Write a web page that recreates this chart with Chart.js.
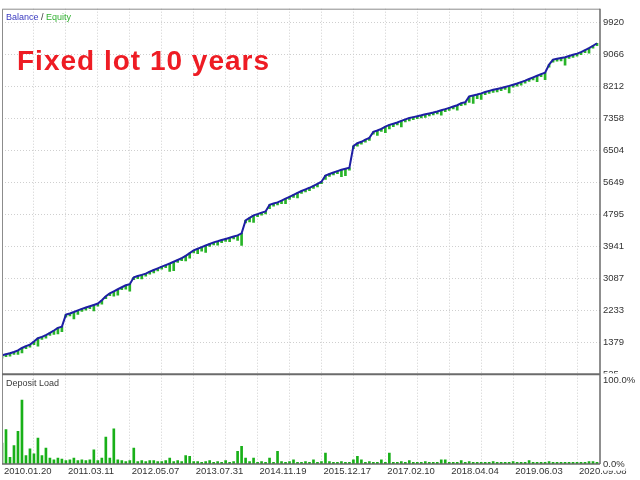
<!DOCTYPE html>
<html>
<head>
<meta charset="utf-8">
<script src="https://cdn.jsdelivr.net/npm/chart.js@4.4.1/dist/chart.umd.min.js"></script>
<style>
  html, body { margin: 0; padding: 0; background: #fff; }
  #wrap { width: 640px; height: 480px; position: relative; }
</style>
</head>
<body>
<div id="wrap"><canvas id="chartBalance" width="640" height="480"></canvas></div>
<script>
// date labels under every second vertical grid line
const dateLabels = ['2010.01.20', '2011.03.11', '2012.05.07', '2013.07.31', '2014.11.19',
  '2015.12.17', '2017.02.10', '2018.04.04', '2019.06.03', '2020.09.08'];
const balanceTicks = [525, 1379, 2233, 3087, 3941, 4795, 5649, 6504, 7358, 8212, 9066, 9920];
const loadTicks = [0, 100];

// balance (one sample per 4 px)
const balance = [
  1032, 1059, 1085, 1118, 1158, 1224, 1275, 1315, 1395, 1486,
  1521, 1569, 1627, 1691, 1761, 1795, 2116, 2145, 2185, 2228,
  2268, 2305, 2340, 2375, 2412, 2500, 2607, 2687, 2740, 2794,
  2847, 2900, 2930, 3114, 3146, 3178, 3213, 3263, 3309, 3354,
  3400, 3440, 3482, 3528, 3576, 3624, 3685, 3760, 3835, 3877,
  3920, 3963, 4005, 4048, 4077, 4109, 4139, 4171, 4203, 4235,
  4288, 4633, 4702, 4769, 4803, 4841, 4875, 5052, 5084, 5116,
  5164, 5214, 5262, 5316, 5369, 5420, 5463, 5506, 5556, 5610,
  5668, 5836, 5876, 5916, 5951, 5988, 6015, 6042, 6621, 6698,
  6736, 6794, 6840, 7003, 7037, 7080, 7141, 7187, 7219, 7251,
  7294, 7336, 7371, 7395, 7419, 7443, 7470, 7494, 7518, 7547,
  7579, 7609, 7643, 7678, 7713, 7769, 7790, 7950, 7974, 7998,
  8030, 8065, 8097, 8124, 8148, 8172, 8201, 8230, 8262, 8292,
  8332, 8372, 8415, 8457, 8500, 8543, 8583, 8799, 8932, 8956,
  8975, 8996, 9028, 9061, 9092, 9133, 9186, 9239, 9303, 9370
];

// lowest equity in each sample (the green spikes)
const equity = [
  952, 992, 1005, 1051, 1051, 1091, 1208, 1248, 1315, 1272,
  1454, 1489, 1560, 1584, 1601, 1662, 2049, 2078, 1998, 2121,
  2201, 2238, 2273, 2215, 2345, 2393, 2540, 2620, 2607, 2634,
  2780, 2793, 2743, 3047, 3079, 3071, 3146, 3196, 3229, 3287,
  3333, 3373, 3268, 3288, 3509, 3557, 3552, 3627, 3768, 3744,
  3813, 3776, 3938, 3981, 3970, 4042, 4072, 4064, 4136, 4102,
  3968, 4566, 4595, 4582, 4736, 4774, 4808, 4945, 5017, 5049,
  5084, 5081, 5195, 5249, 5236, 5353, 5396, 5426, 5489, 5530,
  5615, 5729, 5809, 5849, 5884, 5801, 5828, 5975, 6554, 6618,
  6669, 6727, 6773, 6936, 6904, 7013, 6981, 7080, 7139, 7184,
  7134, 7269, 7291, 7328, 7352, 7376, 7390, 7427, 7451, 7480,
  7446, 7542, 7576, 7611, 7580, 7702, 7723, 7790, 7760, 7891,
  7870, 7998, 8030, 8057, 8068, 8105, 8134, 8043, 8195, 8225,
  8252, 8305, 8348, 8390, 8340, 8476, 8396, 8732, 8865, 8889,
  8895, 8782, 8961, 8994, 9025, 9066, 9119, 9106, 9236, 9303
];

// deposit load, %
const depositLoad = [
  25, 41, 8, 22, 39, 76, 10, 18, 12, 31,
  10, 19, 7, 5, 7, 6, 4, 5, 7, 4,
  5, 4, 5, 17, 4, 7, 32, 7, 42, 5,
  4, 3, 4, 19, 3, 4, 3, 4, 4, 3,
  3, 4, 7, 3, 4, 3, 10, 9, 3, 3,
  2, 3, 4, 2, 3, 2, 4, 2, 3, 15,
  21, 7, 3, 7, 2, 3, 2, 7, 2, 15,
  3, 2, 3, 5, 2, 2, 3, 2, 5, 2,
  3, 13, 3, 2, 2, 3, 2, 2, 5, 9,
  5, 2, 3, 2, 2, 5, 2, 13, 2, 2,
  3, 2, 4, 2, 2, 2, 3, 2, 2, 2,
  5, 5, 2, 2, 2, 4, 2, 3, 2, 2,
  2, 2, 2, 3, 2, 2, 2, 2, 3, 2,
  2, 2, 4, 2, 2, 2, 2, 3, 2, 2,
  2, 2, 2, 2, 2, 2, 2, 3, 3, 2
];

const FONT = '"Liberation Sans", Arial, sans-serif';
const tickFont = { family: FONT, size: 9.5 };
const tickColor = '#333333';

const frameAndText = {
  id: 'frameAndText',
  afterDraw(chart) {
    const { ctx, chartArea: a, scales } = chart;
    const sep = scales.y.bottom;
    ctx.save();
    ctx.strokeStyle = '#8c8c8c';
    ctx.lineWidth = 1;
    ctx.beginPath();
    ctx.moveTo(a.left + 0.5, a.bottom);
    ctx.lineTo(a.left + 0.5, a.top + 0.5);
    ctx.lineTo(a.right, a.top + 0.5);
    ctx.stroke();

    ctx.strokeStyle = '#6b6b6b';
    ctx.lineWidth = 1.5;
    ctx.beginPath();
    ctx.moveTo(a.right, a.top);
    ctx.lineTo(a.right, a.bottom);
    ctx.moveTo(a.left, a.bottom);
    ctx.lineTo(a.right, a.bottom);
    ctx.stroke();
    ctx.lineWidth = 2;
    ctx.beginPath();
    ctx.moveTo(a.left, sep);
    ctx.lineTo(a.right, sep);
    ctx.stroke();

    // legend texts
    ctx.font = '9px ' + FONT;
    ctx.textBaseline = 'alphabetic';
    let x = 6;
    ctx.fillStyle = '#3a3ac0';
    ctx.fillText('Balance', x, 19.5);
    x += ctx.measureText('Balance ').width;
    ctx.fillStyle = '#333333';
    ctx.fillText('/', x, 19.5);
    x += ctx.measureText('/ ').width;
    ctx.fillStyle = '#30b030';
    ctx.fillText('Equity', x, 19.5);

    ctx.fillStyle = '#3a3a3a';
    ctx.fillText('Deposit Load', 6, sep + 12);

    // title
    ctx.font = 'bold 28px ' + FONT;
    ctx.letterSpacing = '1px';
    ctx.fillStyle = '#ee1c24';
    ctx.fillText('Fixed lot 10 years', 17, 70);
    ctx.restore();
  }
};

new Chart(document.getElementById('chartBalance'), {
  type: 'bar',
  data: {
    datasets: [
      {
        type: 'line',
        label: 'Balance',
        data: balance.map((v, i) => ({ x: i, y: v })),
        borderColor: '#1e1ea4',
        borderWidth: 2,
        pointRadius: 0,
        tension: 0,
        xAxisID: 'x',
        yAxisID: 'y',
        order: 0
      },
      {
        type: 'bar',
        label: 'Equity',
        data: balance.map((v, i) => ({ x: i, y: [equity[i], v] })),
        backgroundColor: '#28b428',
        barThickness: 2,
        grouped: false,
        xAxisID: 'x',
        yAxisID: 'y',
        order: 1
      },
      {
        type: 'bar',
        label: 'Deposit Load',
        data: depositLoad.map((v, i) => ({ x: i, y: v })),
        backgroundColor: '#18b018',
        barThickness: 2,
        grouped: false,
        xAxisID: 'x',
        yAxisID: 'yl',
        order: 2
      }
    ]
  },
  options: {
    responsive: false,
    animation: false,
    devicePixelRatio: 1,
    layout: { padding: { top: 8, left: 1, right: 0, bottom: 0 } },
    plugins: { legend: { display: false }, tooltip: { enabled: false } },
    scales: {
      x: {
        type: 'linear',
        min: 0,
        max: 149.75,
        offset: false,
        afterBuildTicks: s => {
          const t = [];
          for (let v = 0; v <= 144; v += 8) t.push({ value: v });
          s.ticks = t;
        },
        afterFit: s => { s.height = 16; },
        grid: { color: '#cfcfcf', drawTicks: false, offset: false },
        border: { display: false, dash: [1, 2] },
        ticks: {
          align: 'start', labelOffset: 2, padding: 2, autoSkip: false, maxRotation: 0,
          font: tickFont, color: tickColor,
          callback: v => (v % 16 === 0 ? dateLabels[v / 16] : '')
        }
      },
      y: {
        type: 'linear',
        position: 'right',
        stack: 'panes',
        stackWeight: 366,
        min: 525,
        max: 10293,
        afterBuildTicks: s => { s.ticks = balanceTicks.map(v => ({ value: v })); },
        afterFit: s => { s.width = 40; },
        grid: { color: '#cfcfcf', drawTicks: false },
        border: { display: false, dash: [1, 2] },
        ticks: { padding: 3, font: tickFont, color: tickColor, callback: v => String(v) }
      },
      yl: {
        type: 'linear',
        position: 'right',
        stack: 'panes',
        stackWeight: 90,
        min: 0,
        max: 107,
        afterBuildTicks: s => { s.ticks = loadTicks.map(v => ({ value: v })); },
        afterFit: s => { s.width = 40; },
        grid: { display: false, drawTicks: false },
        border: { display: false },
        ticks: {
          padding: 3, font: tickFont, color: tickColor,
          showLabelBackdrop: true, backdropColor: '#ffffff', backdropPadding: 1,
          callback: v => v.toFixed(1) + '%'
        }
      }
    }
  },
  plugins: [frameAndText]
});
</script>
</body>
</html>
